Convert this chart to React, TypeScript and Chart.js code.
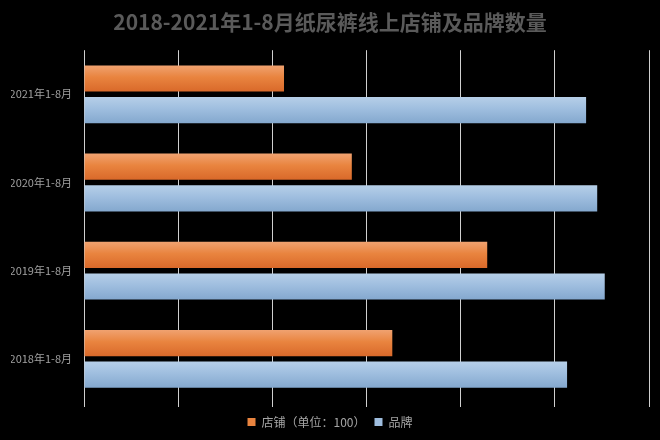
import React, { useEffect, useRef } from "react";
import { Chart, registerables } from "chart.js";

Chart.register(...registerables);

const TITLE = "2018-2021年1-8月纸尿裤线上店铺及品牌数量";
const categories = ["2021年1-8月", "2020年1-8月", "2019年1-8月", "2018年1-8月"];
const seriesNames = ["店铺（单位：100）", "品牌"];
const shops = [1062, 1422, 2141, 1637];
const brands = [2666, 2725, 2765, 2565];
const xMax = 3000;
const xStep = 500;

const FONT = "'Noto Sans CJK SC', 'Noto Sans', sans-serif";

const gradientPlugin = {
  id: "barGradient",
  beforeDatasetsDraw(chart: any) {
    const ctx = chart.ctx;
    const stops = [
      [[0, "#F0A270"], [0.45, "#E9843F"], [1, "#D9692A"]],
      [[0, "#B6CFE8"], [0.45, "#9FBEDF"], [1, "#84A8CE"]],
    ];
    chart.data.datasets.forEach((_: any, di: number) => {
      const meta = chart.getDatasetMeta(di);
      meta.data.forEach((el: any) => {
        const { y, height } = el.getProps(["y", "height"], true);
        const g = ctx.createLinearGradient(0, y - height / 2, 0, y + height / 2);
        stops[di].forEach((s: any) => g.addColorStop(s[0], s[1]));
        el.options = Object.assign({}, el.options, { backgroundColor: g });
      });
    });
  },
};

export default function App() {
  const ref = useRef<HTMLCanvasElement>(null);
  useEffect(() => {
    document.body.style.margin = "0";
    document.body.style.background = "#000";
    const chart = new Chart(ref.current!, {
      type: "bar",
      data: {
        labels: categories,
        datasets: [
          {
            label: seriesNames[0],
            data: shops,
            backgroundColor: "#E9843F",
            borderWidth: 0,
            categoryPercentage: 0.716,
            barPercentage: 0.83,
          },
          {
            label: seriesNames[1],
            data: brands,
            backgroundColor: "#9FBEDF",
            borderWidth: 0,
            categoryPercentage: 0.716,
            barPercentage: 0.83,
          },
        ],
      },
      options: {
        indexAxis: "y",
        responsive: false,
        animation: false,
        layout: { padding: { left: 11, right: 11, top: 0, bottom: 2 } },
        scales: {
          x: {
            min: 0,
            max: xMax,
            ticks: { display: false, stepSize: xStep },
            grid: { color: "#d0d0d0", lineWidth: 1, tickLength: 4, drawTicks: true },
            border: { display: false },
          },
          y: {
            grid: { display: false },
            border: { display: false },
            ticks: {
              color: "#a0a0a0",
              font: { family: FONT, size: 11 },
              padding: 4,
            },
            afterFit(scale: any) {
              scale.width = 73;
            },
          },
        },
        plugins: {
          title: {
            display: true,
            text: TITLE,
            color: "#5a5a5a",
            font: { family: FONT, size: 21, weight: "bold" },
            padding: { top: 9, bottom: 16 },
          },
          legend: {
            position: "bottom",
            labels: {
              color: "#a6a6a6",
              font: { family: FONT, size: 12 },
              boxWidth: 8,
              boxHeight: 8,
              padding: 9,
            },
          },
          tooltip: { enabled: false },
        },
      },
      plugins: [gradientPlugin],
    });
    return () => chart.destroy();
  }, []);
  return (
    <div style={{ width: 660, height: 440, background: "#000" }}>
      <canvas ref={ref} width={660} height={440} />
    </div>
  );
}
